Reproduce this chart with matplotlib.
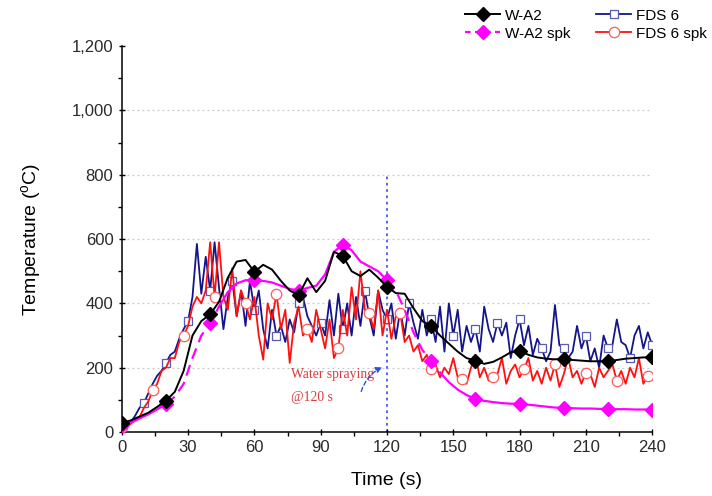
import matplotlib as mpl
import matplotlib.pyplot as plt
import numpy as np
from matplotlib.ticker import FuncFormatter, MultipleLocator

plt.rcParams["font.family"] = ["Liberation Sans", "DejaVu Sans"]

# measured curves, sampled every 4 s
t_meas = np.arange(0, 241, 4)
w_a2 = [28, 36, 48, 60, 78, 97, 125, 190, 300, 345, 366, 405, 480, 530, 535, 498,
        520, 505, 470, 440, 425, 478, 435, 470, 560, 548, 500, 485, 505, 480, 452,
        432, 430, 385, 345, 330, 300, 275, 250, 230, 222, 212, 218, 232, 248, 253,
        240, 232, 228, 226, 228, 224, 222, 220, 220, 220, 224, 228, 230, 232, 232]
w_a2_spk = [22, 28, 42, 55, 70, 88, 110, 150, 230, 300, 338, 390, 435, 462, 472, 472,
            470, 465, 455, 445, 440, 448, 455, 490, 560, 583, 565, 530, 515, 500, 472,
            440, 380, 310, 255, 222, 185, 155, 132, 115, 103, 97, 93, 90, 88, 88,
            85, 82, 79, 76, 75, 74, 73, 73, 72, 72, 71, 71, 70, 70, 70]

# simulated curves, sampled every 2 s
t_sim = np.arange(0, 241, 2)
fds6 = [20, 22, 30, 50, 75, 90, 120, 150, 175, 190, 215, 240, 250, 290, 320, 345,
        420, 585, 430, 545, 440, 590, 450, 320, 420, 470, 360, 440, 330, 470, 380,
        440, 320, 260, 380, 300, 330, 280, 350, 310, 400, 420, 360, 330, 300, 340,
        300, 410, 300, 430, 320, 400, 300, 420, 330, 440, 360, 300, 440, 380, 350,
        400, 290, 380, 300, 400, 340, 290, 380, 300, 350, 280, 390, 250, 400, 300,
        380, 250, 330, 280, 320, 250, 390, 320, 280, 340, 300, 340, 230, 300, 350,
        270, 330, 240, 290, 260, 220, 250, 395, 270, 260, 230, 250, 330, 260, 300,
        220, 260, 200, 300, 260, 270, 350, 280, 270, 230, 300, 330, 260, 310, 270]
fds6_spk = [15, 15, 25, 40, 45, 75, 95, 130, 150, 190, 200, 230, 230, 280, 300, 330,
            390, 420, 400, 440, 590, 420, 590, 420, 380, 510, 360, 440, 400, 350, 420,
            300, 225, 400, 350, 430, 320, 380, 215, 340, 390, 300, 320, 280, 380, 320,
            260, 350, 230, 260, 380, 300, 450, 350, 500, 380, 370, 320, 440, 300, 380,
            290, 360, 370, 280, 300, 250, 270, 220, 240, 195, 210, 170, 200, 180, 230,
            170, 165, 150, 200, 240, 170, 200, 160, 170, 180, 230, 150, 190, 210, 170,
            195, 230, 160, 190, 150, 200, 160, 210, 140, 180, 230, 170, 190, 150, 185,
            180, 140, 200, 170, 190, 210, 160, 190, 150, 200, 170, 230, 150, 175, 180]

y_ticks = [0, 200, 400, 600, 800, 1000, 1200]
x_ticks = [0, 30, 60, 90, 120, 150, 180, 210, 240]
spray_time = 120

fig = plt.figure(figsize=(7.12, 4.96), dpi=100)
ax = fig.add_axes([0.171, 0.129, 0.745, 0.778])

for y in y_ticks[1:-1]:
    ax.axhline(y, color="#c8c8c8", lw=0.9, ls=(0, (1.5, 2.5)), zorder=0)

ax.plot(t_sim, fds6, color="#14148c", lw=1.3, marker="s", markevery=5, ms=6,
        mfc="white", mec="#5a5ab4", mew=0.9, label="FDS 6", zorder=2)
ax.plot(t_sim, fds6_spk, color="#ff1010", lw=1.3, marker="o", markevery=7, ms=7.5,
        mfc="white", mec="#ff5a5a", mew=0.9, label="FDS 6 spk", zorder=3)

# spray curve: dashed on its steep parts, solid elsewhere
spk = np.array(w_a2_spk, dtype=float)
steep = ((t_meas >= 20) & (t_meas <= 44)) | ((t_meas >= 120) & (t_meas <= 144))
flat = ~(((t_meas > 20) & (t_meas < 44)) | ((t_meas > 120) & (t_meas < 144)))
ax.plot(t_meas, np.where(flat, spk, np.nan), color="#ff00ff", lw=1.6, zorder=4)
ax.plot(t_meas, np.where(steep, spk, np.nan), color="#ff00ff", lw=1.6,
        ls=(0, (5, 3)), zorder=4)
ax.plot(t_meas, spk, ls="none", marker="D", markevery=5, ms=7.5, color="#ff00ff",
        zorder=4)
ax.plot([], [], color="#ff00ff", lw=1.6, ls=(0, (2.5, 2)), marker="D", ms=7.5,
        label="W-A2 spk")

ax.plot(t_meas, w_a2, color="black", lw=1.4, marker="D", markevery=5, ms=7.5,
        label="W-A2", zorder=5)

ax.plot([spray_time, spray_time], [0, 800], color="#4a5cf0", lw=1.3,
        ls=(0, (1.5, 2)), zorder=1)
ax.text(76.5, 198, "Water spraying\n@120 s", color="#d83c3c", fontsize=9.8,
        family=["Liberation Serif", "DejaVu Serif"], va="top", ha="left",
        linespacing=1.95)
ax.annotate("", xy=(119, 205), xytext=(108, 118),
            arrowprops=dict(arrowstyle="-|>", color="#3050e0", lw=1.0,
                            ls=(0, (3, 2)), connectionstyle="arc3,rad=-0.25",
                            mutation_scale=9))

ax.set_xlim(0, 240)
ax.set_ylim(0, 1200)
ax.set_xticks(x_ticks)
ax.set_yticks(y_ticks)
ax.xaxis.set_minor_locator(MultipleLocator(15))
ax.yaxis.set_minor_locator(MultipleLocator(100))
ax.yaxis.set_major_formatter(FuncFormatter(lambda v, p: f"{int(v):,}"))
ax.tick_params(which="major", length=5, width=1.0, labelsize=12,
               labelcolor="#2a2a2a", direction="inout")
ax.tick_params(which="minor", length=3, width=1.0, direction="out")
for side in ("top", "right"):
    ax.spines[side].set_visible(False)
for side in ("left", "bottom"):
    ax.spines[side].set_linewidth(1.1)

ax.set_xlabel("Time (s)", fontsize=14, labelpad=12)
ax.set_ylabel("Temperature ($^\\mathregular{o}$C)", fontsize=14, labelpad=20)

handles, labels = ax.get_legend_handles_labels()
order = [labels.index(n) for n in ("W-A2", "W-A2 spk", "FDS 6", "FDS 6 spk")]
fig.legend([handles[i] for i in order], [labels[i] for i in order], ncol=2,
           loc="upper right", bbox_to_anchor=(1.012, 1.01), frameon=False,
           fontsize=11, handlelength=2.3, columnspacing=1.7, labelspacing=0.25,
           handletextpad=0.3)

fig.savefig("out.png", dpi=100)
